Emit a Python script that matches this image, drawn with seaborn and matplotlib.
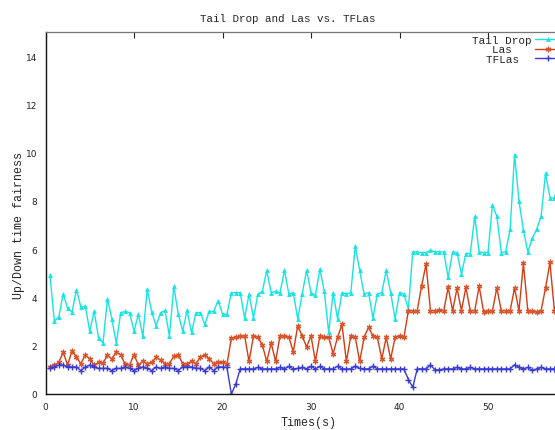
import numpy as np
import matplotlib
matplotlib.use('Agg')
import matplotlib.pyplot as plt
import seaborn as sns

# sample times, every 0.5 s
times = np.arange(0.5, 58.5, 0.5)

tail_drop = [4.94, 3.02, 3.2, 4.14, 3.55, 3.4, 4.33, 3.59, 3.64, 2.61,
             3.42, 2.32, 2.11, 3.95, 3.11, 2.11, 3.37, 3.42, 3.37, 2.61,
             3.31, 2.39, 4.35, 3.38, 2.83, 3.37, 3.46, 2.41, 4.46, 3.31,
             2.61, 3.46, 2.55, 3.37, 3.37, 2.88, 3.42, 3.42, 3.86, 3.31,
             3.31, 4.2, 4.2, 4.2, 3.15, 4.14, 3.15, 4.14, 4.25, 5.12,
             4.2, 4.25, 4.2, 5.12, 4.14, 4.2, 3.11, 4.14, 5.12, 4.2,
             4.09, 5.18, 4.25, 2.55, 4.2, 3.11, 4.2, 4.14, 4.2, 6.13,
             5.12, 4.14, 4.2, 3.15, 4.14, 4.2, 5.12, 4.2, 3.11, 4.2,
             4.14, 3.52, 5.89, 5.89, 5.86, 5.86, 5.95, 5.89, 5.89, 5.89,
             4.83, 5.89, 5.86, 4.97, 5.82, 5.82, 7.36, 5.89, 5.86, 5.86,
             7.84, 7.36, 5.86, 5.89, 6.83, 9.92, 8.0, 6.79, 5.89, 6.45,
             6.83, 7.36, 9.15, 8.14, 8.11, 8.9]

las = [1.13, 1.20, 1.31, 1.73, 1.20, 1.79, 1.52, 1.26, 1.63, 1.45,
       1.20, 1.31, 1.28, 1.61, 1.45, 1.73, 1.63, 1.23, 1.20, 1.63,
       1.20, 1.35, 1.26, 1.31, 1.52, 1.41, 1.26, 1.26, 1.57, 1.63,
       1.26, 1.26, 1.35, 1.26, 1.52, 1.63, 1.45, 1.26, 1.31, 1.31,
       1.23, 2.31, 2.35, 2.39, 2.41, 1.35, 2.41, 2.35, 2.03, 1.35,
       2.11, 1.35, 2.41, 2.41, 2.35, 1.75, 2.83, 2.41, 1.95, 2.41,
       1.35, 2.41, 2.35, 2.35, 1.67, 2.35, 2.88, 1.35, 2.41, 2.35,
       1.35, 2.35, 2.76, 2.41, 2.35, 1.45, 2.35, 1.45, 2.35, 2.41,
       2.35, 3.45, 3.45, 3.45, 4.49, 5.38, 3.45, 3.45, 3.47, 3.45,
       4.42, 3.45, 4.38, 3.45, 4.42, 3.45, 3.45, 4.46, 3.41, 3.45,
       3.45, 4.4, 3.45, 3.45, 3.45, 4.4, 3.45, 5.41, 3.45, 3.43,
       3.41, 3.45, 4.4, 5.45, 3.45, 4.2]

tflas = [1.06, 1.12, 1.2, 1.2, 1.12, 1.12, 1.12, 0.97, 1.12, 1.2,
         1.12, 1.06, 1.06, 1.06, 0.97, 1.06, 1.06, 1.12, 1.06, 0.97,
         1.06, 1.12, 1.06, 0.97, 1.12, 1.06, 1.12, 1.06, 1.06, 0.97,
         1.12, 1.12, 1.12, 1.06, 1.06, 0.97, 1.12, 0.97, 1.12, 1.12,
         1.1, 0.0, 0.41, 1.04, 1.04, 1.04, 1.04, 1.1, 1.04, 1.04,
         1.04, 1.04, 1.1, 1.04, 1.14, 1.04, 1.06, 1.1, 1.04, 1.14,
         1.04, 1.14, 1.04, 1.04, 1.04, 1.15, 1.04, 1.04, 1.04, 1.15,
         1.06, 1.04, 1.04, 1.15, 1.04, 1.04, 1.04, 1.04, 1.04, 1.04,
         1.04, 0.6, 0.28, 1.04, 1.04, 1.04, 1.21, 1.0, 1.0, 1.04,
         1.04, 1.04, 1.1, 1.04, 1.04, 1.1, 1.04, 1.04, 1.04, 1.04,
         1.04, 1.04, 1.04, 1.04, 1.04, 1.21, 1.1, 1.04, 1.1, 0.98,
         1.04, 1.1, 1.04, 1.04, 1.04, 1.04]

x_ticks = [0, 10, 20, 30, 40, 50]
y_ticks = [0, 2, 4, 6, 8, 10, 12, 14]

# monospace key, so trailing spaces centre the short names under "Tail Drop"
labels = ['Tail Drop', 'Las   ', 'TFLas  ']

sns.set_style('white')
plt.rcParams['font.family'] = ['DejaVu Sans']
mono = {'family': 'Liberation Mono'}

fig = plt.figure(figsize=(5.55, 4.31), dpi=100)
ax = fig.add_axes([45.5 / 555, 36 / 431, 509.5 / 555, 362 / 431])

# seaborn paints marker edges white by default, so set them to the line colour
sns.lineplot(x=times, y=tail_drop, ax=ax, color='#19e3e3', lw=1,
             marker='^', markersize=3.5, markeredgewidth=0, label=labels[0])
sns.lineplot(x=times, y=las, ax=ax, color='#d23c12', lw=1,
             marker=(6, 2, 0), markersize=4, markeredgewidth=0.9,
             markeredgecolor='#d9552b', label=labels[1])
sns.lineplot(x=times, y=tflas, ax=ax, color='#3a3ad4', lw=1,
             marker='+', markersize=4.5, markeredgewidth=1,
             markeredgecolor='#3a3ad4', label=labels[2])

ax.set_xlim(0, 57.57)
ax.set_ylim(0, 15)
ax.set_xticks(x_ticks)
ax.set_yticks(y_ticks)
ax.tick_params(direction='in', length=4, width=0.8, top=True, labelsize=6.5,
               colors='#222222')
ax.tick_params(axis='x', pad=6)
ax.tick_params(axis='y', pad=6)

for s in ['left', 'bottom']:
    ax.spines[s].set_color('#111111')
    ax.spines[s].set_linewidth(1)
ax.spines['top'].set_color('#777777')
ax.spines['top'].set_linewidth(0.9)
ax.spines['right'].set_visible(False)

ax.set_title('Tail Drop and Las vs. TFLas', fontsize=7.8, x=0.475, pad=8, **mono)
ax.set_xlabel('Times(s)', fontsize=8.4, **mono)
ax.set_ylabel('Up/Down time fairness', fontsize=8.4, **mono)
ax.xaxis.set_label_coords(0.516, -0.06)
ax.yaxis.set_label_coords(-0.041, 0.467)

ax.legend(loc='upper right', bbox_to_anchor=(1.024, 1.01), frameon=False,
          prop={'family': 'Liberation Mono', 'size': 7.9},
          markerfirst=False, handlelength=2.3, handletextpad=0.3,
          labelspacing=-0.05, borderaxespad=0.2)

fig.savefig('out.png', dpi=100)
